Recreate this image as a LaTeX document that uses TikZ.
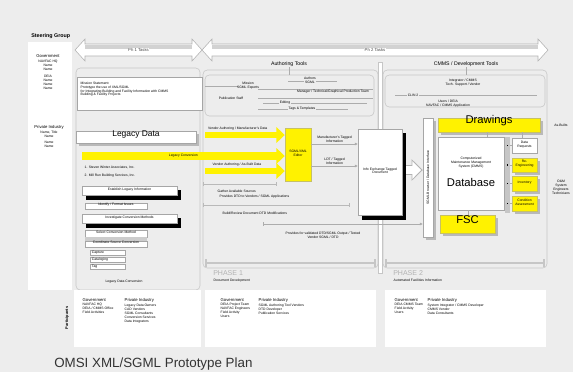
\documentclass[tikz,border=0pt]{standalone}
\usepackage{fontspec}
\setmainfont{Liberation Sans}
\usetikzlibrary{positioning,fit,arrows.meta}

\begin{document}
\begin{tikzpicture}[x=0.25mm,y=-0.25mm,
    lbl/.style={font=\fontsize{2.4}{2.8}\selectfont,inner sep=0.3pt,align=center},
    head/.style={font=\fontsize{3}{3.5}\selectfont,inner sep=0.3pt,align=center},
    frame/.style={draw=gray!45,line width=0.4pt,rounded corners=3pt,inner sep=0pt},
    wbox/.style={draw=gray!70,fill=white,line width=0.3pt,inner sep=0pt,font=\fontsize{2.4}{2.8}\selectfont,align=center},
    ybox/.style={draw=yellow!50!gray,fill=yellow,line width=0.3pt,inner sep=0pt,font=\fontsize{2.4}{2.8}\selectfont,align=center},
    conn/.style={draw=gray!65,line width=0.35pt},
    track/.style={draw=gray!55,line width=0.4pt,{Bar[width=2.5pt]}-{Bar[width=2.5pt]}},
    yarrow/.style={draw=yellow,line width=#1,-{Triangle[width=11pt,length=6pt]}},
    yarrow/.default=4pt,
    big/.style={font=\fontsize{8}{9}\selectfont}
  ]
    % Canvas
    \fill[black!7] (0,0) rectangle (573,372);
    \useasboundingbox (0,0) rectangle (573,372);

    % Steering group column
    \fill[white] (28,42) rectangle (72,290);
    \node[anchor=west,font=\fontsize{3.8}{4.4}\selectfont\bfseries,inner sep=0pt] (steer) at (31,36) {Steering Group};
    \node[head] (sgov) at (48,56) {Government};
    \node[lbl,below=0.8pt of sgov] (sgovlist) {NAVFAC HQ\\Name\\Name};
    \node[lbl,below=2.5pt of sgovlist] (sdeia) {DEIA\\Name\\Name\\Name};
    \node[head] (spriv) at (49,127) {Private Industry};
    \node[lbl,below=0.8pt of spriv] (sprivlist) {Name, Title\\Name\\[1pt]Name\\Name};

    % Task banners
    \foreach \a/\b/\txt [count=\i] in {75/202/Ph 1 Tasks,202/548/Ph 2 Tasks}{
      \filldraw[fill=white,draw=gray!60,line width=0.4pt] (\a,50) -- (\a+10,39) -- (\a+10,44) -- (\b-10,44) -- (\b-10,39) -- (\b,50) -- (\b-10,61) -- (\b-10,56) -- (\a+10,56) -- (\a+10,61) -- cycle;
      \fill[gray!35] (\a+10,44.5) rectangle (\b-10,48.5);
      \node[head,fill=white,text=gray!55!black] (task\i) at ({(\a+\b)/2},50) {\txt};
    }

    % Frames
    \node[frame,fit={(76,68)(200,290)}] (legframe) {};
    \node[frame,fit={(203,70)(378,268)}] (ph1frame) {};
    \node[frame,fit={(383,70)(547,268)}] (ph2frame) {};
    \node[frame,fit={(205,75)(374,116)}] (authbox) {};
    \node[frame,fit={(385,75)(545,107)}] (cmmsbox) {};
    \filldraw[fill=white,draw=gray!45,line width=0.3pt] (378.5,62) rectangle (382.5,273);
    \node[head,font=\fontsize{3.7}{4.2}\selectfont,fill=black!7] (authhdr) at (289,64) {Authoring Tools};
    \node[head,font=\fontsize{3.7}{4.2}\selectfont,fill=black!7] (cmmshdr) at (466,64) {CMMS / Development Tools};
    \draw[conn] (authhdr.south) -- (authhdr.south |- authbox.north);
    \draw[conn] (cmmshdr.south) -- (cmmshdr.south |- cmmsbox.north);

    % Authoring tools roles
    \draw[conn] (288,81) -- (337,81);
    \node[lbl,fill=black!7] (authors) at (310,80) {Authors\\SGML};
    \draw[conn] (205,86) -- (238,86);
    \node[lbl] (experts) at (248,86) {Mission\\SGML Experts};
    \draw[conn] (258,89) -- (373,89);
    \node[lbl] (prodteam) at (333,92) {Manager / Technical/Graphical Production Team};
    \node[lbl] (pubstaff) at (231,98) {Publication Staff};
    \draw[conn] (258,98) -- (373,98);
    \draw[conn] (263,103) -- (367,103);
    \node[lbl,fill=black!7] (editing) at (285,103) {Editing};
    \draw[conn] (258,109) -- (348,109);
    \node[lbl,fill=black!7] (tags) at (302,109) {Tags \& Templates};

    % CMMS tools roles
    \node[lbl] (integ) at (463,83) {Integrator / CMMS\\Tech. Support / Vendor};
    \draw[conn] (395,95) -- (537,95);
    \node[lbl,fill=black!7] (clin) at (413,95) {CLIN 2};
    \node[lbl] (users) at (448,104) {Users / DEIA\\NAVFAC / CMMS Application};

    % Shadows under the raised boxes
    \foreach \xa/\ya/\xb/\yb in {76/131/196/143,423/118/433/237,438/118/540/132,440/215/495/233,512/158/537/172,512/176/537/191,512/196/537/211}
      \fill[gray!55] (\xa+2.5,\ya+2.5) rectangle (\xb+2.5,\yb+2.5);
    \foreach \xa/\ya/\xb/\yb in {82/186/177/195,82/214/177/223,358/129/402/215}
      \fill[black] (\xa+4,\ya+4) rectangle (\xb+4,\yb+4.5);

    % Legacy data tasks
    \node[wbox,fit={(77,77)(202,110)}] (mission) {};
    \node[lbl,anchor=north west,align=left] (missiontxt) at (80,81) {Mission Statement:\\Prototype the use of XML/SGML\\for Integrating Building and Facility Information with CMMS\\Building \& Facility Projects};
    \node[wbox,fit={(76,131)(196,143)},font=\fontsize{6}{7}\selectfont] (legacy) {Legacy Data};
    \node[lbl,anchor=west] (src1) at (84,167) {1. Steven Winter Associates, Inc.};
    \node[lbl,anchor=west] (src2) at (84,176) {2. Mill Run Building Services, Inc.};
    \node[wbox,fit={(82,186)(177,195)}] (establish) {Establish Legacy Information};
    \node[wbox,fit={(85,203)(147,209)}] (identify) {Identify / Format Issues};
    \node[wbox,fit={(82,214)(177,223)}] (investigate) {Investigate Conversion Methods};
    \node[wbox,fit={(85,230)(147,237)}] (select) {Select Conversion Method};
    \fill[gray!40] (85,237) rectangle (147,241);
    \node[wbox,fit={(85,241)(147,247)}] (coord) {Coordinate Source Conversion};
    \foreach \t [count=\i] in {Capture,Cataloging,Tag}{
      \node[wbox,fit={(90,243+7*\i)(125,248+7*\i)}] (step\i) {};
      \node[lbl,anchor=west] at ([xshift=1pt]step\i.west) {\t};
    }
    \node[lbl] (legconv) at (124,282) {Legacy Data Conversion};

    % Authoring flow
    \node[ybox,fit={(285,128)(311,181)}] (editor) {SGML/XML\\Editor};
    \node[wbox,fit={(358,129)(402,215)}] (bigdoc) {Info Exchange Tagged\\Document};
    \coordinate (va) at (205,135);
    \coordinate (lc) at (82,156);
    \coordinate (vb) at (205,171);
    \draw[yarrow] (va) -- (editor.west |- va) node[lbl,above,pos=0.41,yshift=0.8pt] {Vendor Authoring / Manufacturer's Data};
    \draw[yarrow=5.7pt] (lc) -- (editor.west |- lc) node[lbl,pos=0.5] {Legacy Conversion};
    \draw[yarrow] (vb) -- (editor.west |- vb) node[lbl,above,pos=0.4,yshift=0.8pt] {Vendor Authoring / As-Built Data};
    \coordinate (ma) at (0,144);
    \coordinate (mb) at (0,166);
    \draw[conn,-{Latex[length=2pt,width=2pt]}] (editor.east |- ma) -- (bigdoc.west |- ma) node[lbl,above,midway,yshift=0.3pt] {Manufacturer's Tagged\\Information};
    \draw[conn,-{Latex[length=2pt,width=2pt]}] (editor.east |- mb) -- (bigdoc.west |- mb) node[lbl,above,midway,yshift=0.3pt] {LDT / Tagged\\Information};

    % Development notes
    \draw[track] (203,184) -- (277,184);
    \node[lbl,anchor=west] (gather) at (217,191) {Gather Available Sources};
    \node[lbl,anchor=west] (provides) at (219,197) {Provides DTD to Vendors / SGML Applications};
    \draw[track] (203,205) -- (350,205);
    \node[lbl,anchor=west] (review) at (222,213) {Build/Review Document DTD Modifications};

    % CMMS side
    \node[wbox,fit={(423,118)(433,237)}] (column) {};
    \node[lbl,rotate=90] (columntxt) at (column) {SGML Browser / Database Interface};
    \coordinate (ha) at (0,170);
    \draw[draw=gray!60,line width=7pt,shorten <=2.9pt,-{Triangle[width=15pt,length=8pt]}] (bigdoc.east |- ha) -- (column.west |- ha);
    \draw[draw=white,line width=5.4pt,shorten <=2.9pt,shorten >=1.1pt,-{Triangle[width=12.4pt,length=6.4pt]}] (bigdoc.east |- ha) -- (column.west |- ha);
    \coordinate (fa) at (263,224);
    \draw[conn,{Bar[width=2.5pt]}-{Latex[length=2pt,width=2pt]}] (fa) -- (column.west |- fa);
    \node[lbl] (validated) at (323,235) {Provides for validated DTD/SGML Output / Tested\\Vendor SGML / DTD};

    \node[ybox,fit={(438,118)(540,132)},big] (drawings) {Drawings};
    \node[wbox,fit={(438,137)(504,210)}] (db) {};
    \node[fill=gray!45,inner sep=0pt,fit={(505,137)(510,213)}] (dbbus) {};
    \node[lbl] (dbsub) at (471,163) {Computerized\\Maintenance Management\\System (CMMS)};
    \node[big,inner sep=0pt] (dbname) at (471,182) {Database};
    \node[ybox,fit={(440,215)(495,233)},big] (fsc) {FSC};
    \node[wbox,fit={(512,138)(537,153)}] (rb1) {Data\\Requests};
    \node[ybox,fit={(512,158)(537,172)}] (rb2) {Re-\\Engineering};
    \node[ybox,fit={(512,176)(537,191)}] (rb3) {Inventory};
    \node[ybox,fit={(512,196)(537,211)}] (rb4) {Condition\\Assessment};
    \foreach \i in {1,...,4}{
      \draw[conn] (dbbus.east |- rb\i.west) -- (rb\i.west);
      \fill[black] ([xshift=-0.7pt,yshift=-0.7pt]dbbus.center |- rb\i.west) rectangle ++(1.4pt,1.4pt);
    }
    \draw[conn] (drawings.south -| 487,0) -- (db.north -| 487,0);
    \draw[conn] (drawings.south -| 522,0) -- (rb1.north -| 522,0);
    \draw[conn] (db.south -| 468,0) -- (fsc.north -| 468,0);
    \node[lbl] (asbuilt) at (561,125) {As-Builts};
    \node[lbl] (omstaff) at (561,187) {O\&M\\System\\Engineers\\Technicians};

    % Timeline tracks and phases
    \draw[track,draw=gray!45,line width=1.4pt,{Bar[width=5pt]}-{Bar[width=5pt]}] (205,263) -- (376,263);
    \draw[track,draw=gray!45,line width=1.4pt,{Bar[width=5pt]}-{Bar[width=5pt]}] (385,263) -- (545,263);
    \node[anchor=west,font=\fontsize{5}{6}\selectfont,text=gray!60,inner sep=0pt] (ph1) at (213,273) {PHASE 1};
    \node[lbl,anchor=north west] (ph1sub) at ([yshift=-1.5pt]ph1.south west) {Document Development};
    \node[anchor=west,font=\fontsize{5}{6}\selectfont,text=gray!60,inner sep=0pt] (ph2) at (393,273) {PHASE 2};
    \node[lbl,anchor=north west] (ph2sub) at ([yshift=-1.5pt]ph2.south west) {Automated Facilities Information};

    % Participants
    \node[fill=white,inner sep=0pt,fit={(74,290)(201,347)}] (part1) {};
    \node[fill=white,inner sep=0pt,fit={(205,290)(376,347)}] (part2) {};
    \node[fill=white,inner sep=0pt,fit={(385,290)(546,347)}] (part3) {};
    \node[rotate=90,font=\fontsize{2.8}{3.2}\selectfont\bfseries,inner sep=0pt] (partlbl) at (67,318) {Participants};
    \node[head,anchor=north west] (gov1) at (82,298) {Government};
    \node[lbl,anchor=north west,align=left] at (gov1.south west) {NAVFAC HQ\\DEIA / CMMS Office\\Field Activities};
    \node[head,anchor=north west] (priv1) at (124,298) {Private Industry};
    \node[lbl,anchor=north west,align=left] at (priv1.south west) {Legacy Data Owners\\CAD Vendors\\SGML Consultants\\Conversion Services\\Data Integrators};
    \node[head,anchor=north west] (gov2) at (220,298) {Government};
    \node[lbl,anchor=north west,align=left] at (gov2.south west) {DEIA Project Team\\NAVFAC Engineers\\Field Activity\\Users};
    \node[head,anchor=north west] (priv2) at (258,298) {Private Industry};
    \node[lbl,anchor=north west,align=left] at (priv2.south west) {SGML Authoring Tool Vendors\\DTD Developer\\Publication Services};
    \node[head,anchor=north west] (gov3) at (394,298) {Government};
    \node[lbl,anchor=north west,align=left] at (gov3.south west) {DEIA CMMS Team\\Field Activity\\Users};
    \node[head,anchor=north west] (priv3) at (427,298) {Private Industry};
    \node[lbl,anchor=north west,align=left] at (priv3.south west) {System Integrator / CMMS Developer\\CMMS Vendor\\Data Consultants};

    % Title
    \node[anchor=west,font=\fontsize{9.5}{11}\selectfont,text=black!80,inner sep=0pt] (title) at (54,364) {OMSI XML/SGML Prototype Plan};
\end{tikzpicture}
\end{document}
